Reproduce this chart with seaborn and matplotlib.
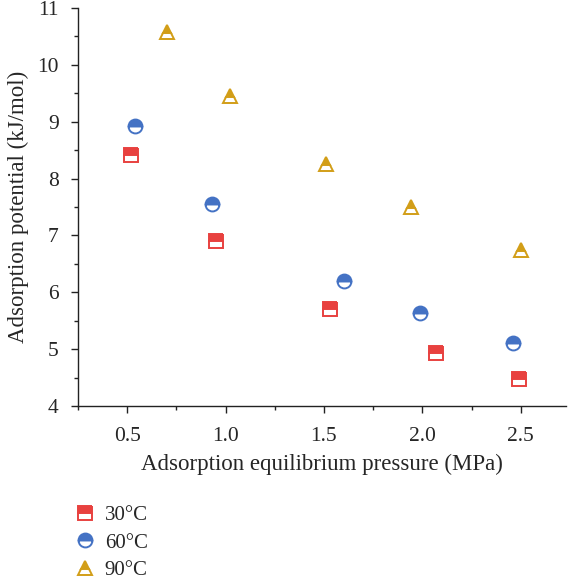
import matplotlib
matplotlib.use("Agg")
import matplotlib.pyplot as plt
import seaborn as sns
import pandas as pd
from matplotlib.ticker import MultipleLocator

temps = ["30°C", "60°C", "90°C"]
p_30 = [0.52, 0.95, 1.53, 2.07, 2.49]
e_30 = [8.42, 6.90, 5.70, 4.94, 4.48]
p_60 = [0.54, 0.93, 1.60, 1.99, 2.46]
e_60 = [8.92, 7.56, 6.19, 5.64, 5.10]
p_90 = [0.70, 1.02, 1.51, 1.94, 2.50]
e_90 = [10.58, 9.45, 8.26, 7.50, 6.74]

df = pd.DataFrame({
    "p": p_30 + p_60 + p_90,
    "e": e_30 + e_60 + e_90,
    "T": [temps[0]] * len(p_30) + [temps[1]] * len(p_60) + [temps[2]] * len(p_90),
})

sns.set_theme(style="ticks")
plt.rcParams["font.family"] = ["Liberation Serif", "DejaVu Serif"]

colors = {"30°C": "#e8413f", "60°C": "#4472c4", "90°C": "#d29e18"}
markers = {"30°C": "s", "60°C": "o", "90°C": "^"}

fig = plt.figure(figsize=(5.68, 5.83), dpi=100)
ax = fig.add_axes([78 / 568, 1 - 406 / 583, (566 - 78) / 568, (406 - 8) / 583])

sns.lineplot(data=df, x="p", y="e", hue="T", style="T", palette=colors,
             markers=markers, dashes=False, estimator=None, sort=False,
             linestyle="", markersize=10, fillstyle="top",
             markerfacecoloralt="white", markeredgewidth=1.4, ax=ax, legend=True)

for line in ax.lines:
    line.set_markeredgecolor(line.get_color())

ax.set_xlim(0.25, 2.73)
ax.set_ylim(4, 11)
ax.xaxis.set_major_locator(MultipleLocator(0.5))
ax.xaxis.set_minor_locator(MultipleLocator(0.25))
ax.yaxis.set_major_locator(MultipleLocator(1))
ax.yaxis.set_minor_locator(MultipleLocator(0.5))
ax.tick_params(which="major", direction="out", length=5, width=1, labelsize=15.5,
               color="#222222")
ax.tick_params(axis="x", which="major", pad=10)
ax.tick_params(axis="y", which="major", pad=9)
ax.tick_params(which="minor", direction="out", length=3, width=1, color="#222222")
ax.set_xticklabels([f"{v:.1f}" for v in ax.get_xticks()])
for s in ["top", "right"]:
    ax.spines[s].set_visible(False)
for s in ["left", "bottom"]:
    ax.spines[s].set_linewidth(1)
    ax.spines[s].set_color("#222222")

ax.set_xlabel("Adsorption equilibrium pressure (MPa)", fontsize=16.5, labelpad=6)
ax.set_ylabel("Adsorption potential (kJ/mol)", fontsize=16.5, labelpad=6)

handles, labels = ax.get_legend_handles_labels()
for h in handles:
    h.set_linestyle("")
    h.set_fillstyle("top")
    h.set_markerfacecoloralt("white")
    h.set_markeredgecolor(h.get_color())
    h.set_markersize(10)
    h.set_markeredgewidth(1.4)
ax.legend_.remove()
fig.legend(handles, labels, loc="upper left", bbox_to_anchor=(62 / 568, 1 - 495 / 583),
           frameon=False, fontsize=15, labelspacing=0.38, handlelength=1.2,
           handletextpad=0.35, borderpad=0)

fig.savefig("out.png", dpi=100)
